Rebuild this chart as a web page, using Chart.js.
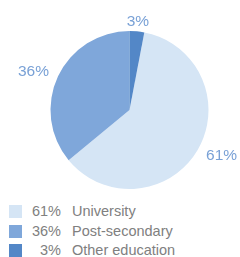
<!DOCTYPE html>
<html>
<head>
<meta charset="utf-8">
<script src="https://cdn.jsdelivr.net/npm/chart.js@4/dist/chart.umd.min.js"></script>
<style>
  html, body { margin: 0; padding: 0; background: #fff; }
  #wrap { position: relative; width: 240px; height: 257px; overflow: hidden; }
  #chart-box { position: absolute; left: 0; top: 0; width: 240px; height: 200px; }
  .legend { position: absolute; left: 0; top: 202px; width: 240px;
    font-family: "Liberation Sans", Arial, sans-serif; font-size: 14.5px; color: #808080; }
  .legend-row { position: relative; height: 19.5px; line-height: 19.5px; }
  .legend-box { position: absolute; left: 9px; top: 3px; width: 13px; height: 13px; }
  .legend-pct { position: absolute; left: 22px; width: 39px; text-align: right; }
  .legend-name { position: absolute; left: 72px; white-space: nowrap; }
</style>
</head>
<body>
<div id="wrap">
  <div id="chart-box"><canvas id="pie"></canvas></div>
  <div class="legend" id="legend"></div>
</div>
<script>
var categories = ['University', 'Post-secondary', 'Other education'];
var shares = [61, 36, 3];
var colors = ['#d5e5f5', '#7fa7da', '#5387c7'];

(function () {
  var legend = document.getElementById('legend');
  legend.innerHTML = categories.map(function (name, i) {
    return (
      '<div class="legend-row">' +
        '<span class="legend-box" style="background:' + colors[i] + '"></span>' +
        '<span class="legend-pct">' + shares[i] + '%</span>' +
        '<span class="legend-name">' + name + '</span>' +
      '</div>'
    );
  }).join('');

  // percentage labels just outside each slice
  var outerLabels = {
    id: 'outerLabels',
    afterDatasetsDraw: function (chart) {
      var ctx = chart.ctx;
      var meta = chart.getDatasetMeta(0);
      ctx.save();
      ctx.font = '15.5px "Liberation Sans", Arial, sans-serif';
      ctx.fillStyle = '#79a1d6';
      ctx.textBaseline = 'middle';
      meta.data.forEach(function (arc, i) {
        var p = arc.getProps(['startAngle', 'endAngle', 'outerRadius', 'x', 'y'], true);
        var mid = (p.startAngle + p.endAngle) / 2;
        var r = p.outerRadius + 10;
        var cx = Math.cos(mid), cy = Math.sin(mid);
        ctx.textAlign = cx > 0.3 ? 'left' : (cx < -0.3 ? 'right' : 'center');
        ctx.fillText(shares[i] + '%', p.x + cx * r, p.y + cy * r);
      });
      ctx.restore();
    }
  };

  new Chart(document.getElementById('pie'), {
    type: 'pie',
    data: {
      labels: categories,
      datasets: [{
        data: shares,
        backgroundColor: colors,
        borderWidth: 0
      }]
    },
    options: {
      responsive: true,
      maintainAspectRatio: false,
      animation: false,
      rotation: shares[2] * 3.6,
      layout: { padding: { top: 31, bottom: 11, left: 50.5, right: 31.5 } },
      plugins: {
        legend: { display: false },
        tooltip: { enabled: false }
      }
    },
    plugins: [outerLabels]
  });
})();
</script>
</body>
</html>
